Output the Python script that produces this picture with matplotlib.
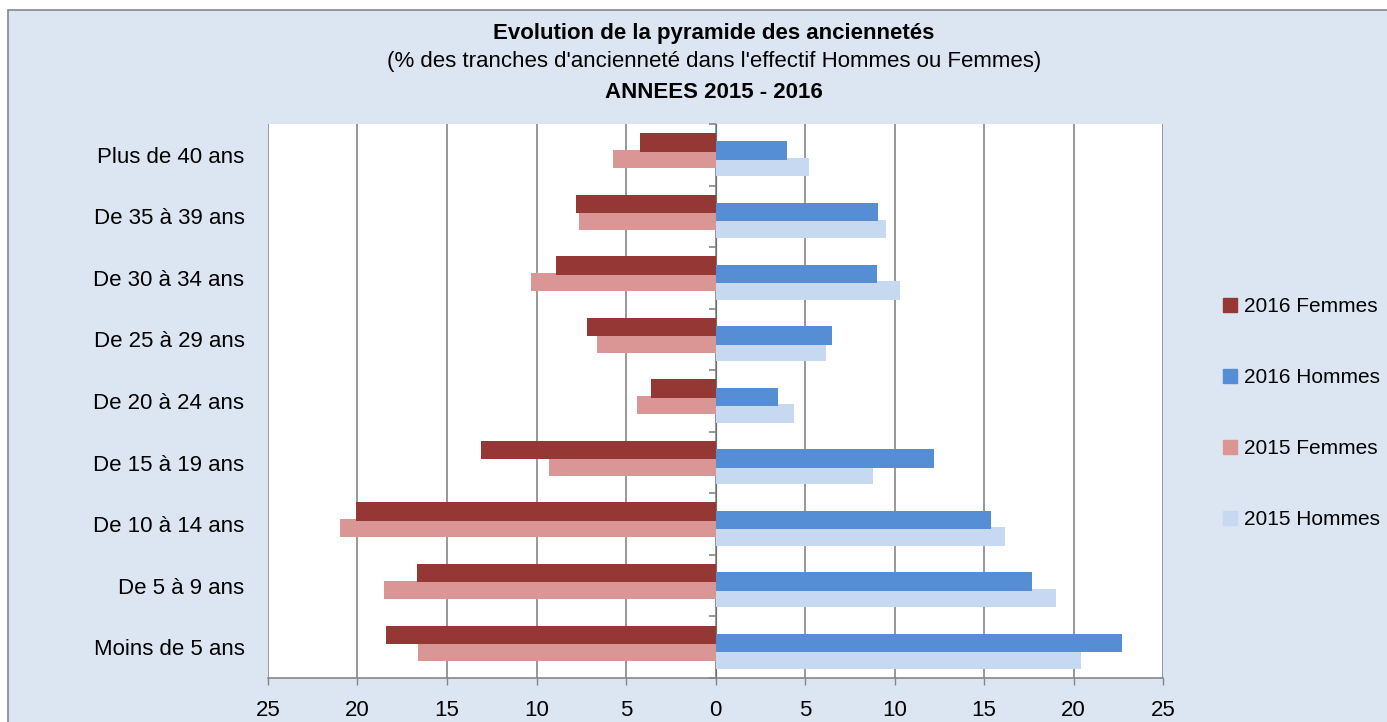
import numpy as np
import matplotlib
matplotlib.use("Agg")
import matplotlib.pyplot as plt
from matplotlib.patches import Rectangle, Patch
from matplotlib.ticker import FuncFormatter

plt.rcParams['font.family'] = ['Liberation Sans', 'DejaVu Sans']

# Données (% des tranches d'ancienneté)
tranches = ["Plus de 40 ans", "De 35 à 39 ans", "De 30 à 34 ans", "De 25 à 29 ans",
            "De 20 à 24 ans", "De 15 à 19 ans", "De 10 à 14 ans", "De 5 à 9 ans",
            "Moins de 5 ans"]
femmes_2016 = [4.2, 7.8, 8.9, 7.2, 3.6, 13.1, 20.1, 16.7, 18.4]
hommes_2016 = [4.0, 9.1, 9.0, 6.5, 3.5, 12.2, 15.4, 17.7, 22.7]
femmes_2015 = [5.7, 7.6, 10.3, 6.6, 4.4, 9.3, 21.0, 18.5, 16.6]
hommes_2015 = [5.2, 9.5, 10.3, 6.2, 4.4, 8.8, 16.2, 19.0, 20.4]

# Couleurs
c_f16 = '#953735'
c_h16 = '#558ED5'
c_f15 = '#DA9694'
c_h15 = '#C6D9F1'
fond = '#DCE6F2'
gris = '#868686'

W, H = 1387, 722
fig = plt.figure(figsize=(W / 100, H / 100), dpi=100)
fig.patch.set_facecolor('white')

# Zone du graphique (cadre gris + fond bleu clair)
cadre = Rectangle((8 / W, -0.05), 1.05, 1 - 10 / H + 0.05,
                  transform=fig.transFigure, facecolor=fond,
                  edgecolor=gris, linewidth=1.2, zorder=-5)
fig.patches.append(cadre)

ax = fig.add_axes([268 / W, 1 - 678 / H, (1163 - 268) / W, (678 - 124) / H])
ax.set_facecolor('white')
ax.set_zorder(1)

y = np.arange(len(tranches))
h = 0.3
pas = 0.135
ax.barh(y + 1.5 * pas, hommes_2015, height=h, color=c_h15, zorder=2)
ax.barh(y + 0.5 * pas, [-v for v in femmes_2015], height=h, color=c_f15, zorder=2)
ax.barh(y - 0.5 * pas, hommes_2016, height=h, color=c_h16, zorder=3)
ax.barh(y - 1.5 * pas, [-v for v in femmes_2016], height=h, color=c_f16, zorder=3)

ax.set_xlim(-25, 25)
ax.set_ylim(len(tranches) - 0.5, -0.5)

ax.set_xticks(np.arange(-25, 26, 5))
ax.xaxis.set_major_formatter(FuncFormatter(lambda v, _: f'{abs(int(v))}'))
ax.tick_params(axis='x', direction='out', length=5, width=1, color=gris,
               labelsize=16, pad=11, labelcolor='black')
ax.xaxis.grid(True, color=gris, linewidth=1.2, zorder=1)
ax.set_axisbelow(True)

ax.set_yticks(y)
ax.set_yticklabels(tranches, fontsize=16)
ax.tick_params(axis='y', length=0, pad=17)

for s in ['top', 'right', 'left']:
    ax.spines[s].set_visible(False)
ax.spines['bottom'].set_color(gris)
ax.spines['bottom'].set_linewidth(1.2)

# Petites graduations sur l'axe vertical (au zéro), vers la gauche
sec = ax.secondary_yaxis(0.5)
sec.set_yticks(np.arange(-0.5, len(tranches), 1.0))
sec.set_yticklabels([])
sec.tick_params(axis='y', direction='in', length=5, width=1.2, color=gris)
sec.spines['left'].set_visible(False)

# Titres
xc = 714 / W
fig.text(xc, 1 - 33 / H, "Evolution de la pyramide des anciennetés",
         ha='center', va='center', fontsize=16, fontweight='bold')
fig.text(xc, 1 - 62 / H, "(% des tranches d'ancienneté dans l'effectif Hommes ou Femmes)",
         ha='center', va='center', fontsize=16)
fig.text(xc, 1 - 93 / H, "ANNEES 2015 - 2016",
         ha='center', va='center', fontsize=16, fontweight='bold')

# Légende
handles = [Patch(color=c_f16, label='2016 Femmes'),
           Patch(color=c_h16, label='2016 Hommes'),
           Patch(color=c_f15, label='2015 Femmes'),
           Patch(color=c_h15, label='2015 Hommes')]
fig.legend(handles=handles, loc='center left', bbox_to_anchor=(1213 / W, 1 - 413 / H),
           frameon=False, fontsize=15, handlelength=0.65, handleheight=0.65,
           handletextpad=0.35, labelspacing=2.5, borderpad=0)

fig.savefig('out.png', dpi=100, facecolor=fig.get_facecolor())
